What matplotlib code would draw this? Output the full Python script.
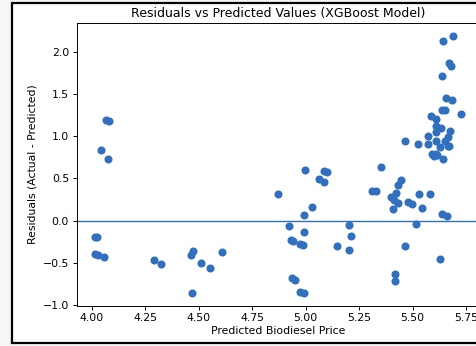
import numpy as np
import matplotlib
matplotlib.use("Agg")
import matplotlib.pyplot as plt
from matplotlib.patches import Rectangle

# predicted price / residual pairs
predicted = [
    4.068, 4.080, 4.043, 4.074, 4.015, 4.025, 4.015, 4.028, 4.057, 4.292,
    4.323, 4.462, 4.473, 4.471, 4.512, 4.553, 4.609, 4.870, 4.921, 4.932,
    4.941, 4.974, 4.986, 4.991, 4.938, 4.952, 4.975, 4.991, 4.994, 4.998,
    5.028, 5.062, 5.085, 5.085, 5.102, 5.147, 5.201, 5.211, 5.201, 5.311,
    5.330, 5.351, 5.401, 5.412, 5.421, 5.410, 5.430, 5.432, 5.444, 5.418,
    5.419, 5.464, 5.466, 5.478, 5.495, 5.517, 5.526, 5.531, 5.543, 5.573,
    5.573, 5.580, 5.584, 5.590, 5.601, 5.608, 5.611, 5.611, 5.608, 5.611,
    5.616, 5.627, 5.632, 5.628, 5.639, 5.642, 5.639, 5.639, 5.644, 5.651,
    5.653, 5.656, 5.662, 5.664, 5.667, 5.670, 5.670, 5.675, 5.681, 5.686,
    5.690, 5.726,
]
residuals = [
    1.194, 1.190, 0.845, 0.734, -0.194, -0.202, -0.397, -0.405, -0.440, -0.472,
    -0.512, -0.409, -0.361, -0.857, -0.500, -0.571, -0.377, 0.313, -0.071, -0.230,
    -0.242, -0.278, -0.286, -0.131, -0.690, -0.710, -0.853, -0.861, 0.060, 0.603,
    0.155, 0.488, 0.460, 0.591, 0.575, -0.302, -0.056, -0.187, -0.353, 0.349,
    0.349, 0.639, 0.282, 0.242, 0.325, 0.139, 0.210, 0.421, 0.480, -0.639,
    -0.722, 0.952, -0.302, 0.218, 0.202, -0.040, 0.913, 0.310, 0.151, 1.004,
    0.913, 0.310, 1.238, 0.790, 0.770, 1.206, 1.127, 1.056, 0.790, 0.948,
    0.782, 0.869, 1.099, -0.456, 0.079, 2.131, 1.718, 1.313, 0.730, 1.313,
    0.944, 1.460, 0.052, 0.889, 0.988, 0.881, 1.869, 1.060, 1.841, 1.437,
    2.194, 1.270,
]

blue = '#3070bf'

fig = plt.figure(figsize=(4.77, 3.46), dpi=100, facecolor='#f6f6f6')
# white panel with dark frame (screenshot border, cut off on the right)
fig.patches.append(Rectangle((12.5 / 477, 3 / 346), 1.2, 340 / 346,
                             transform=fig.transFigure, facecolor='white',
                             edgecolor='black', linewidth=1.6, zorder=-5))

ax = fig.add_axes([76.7 / 477, 40.3 / 346, 402.3 / 477, 282.4 / 346])
ax.set_zorder(2)
ax.scatter(predicted, residuals, s=23, color=blue, zorder=3)
ax.axhline(0, color=blue, linewidth=1.0)

ax.set_xlim(3.93, 5.81)
ax.set_ylim(-1.014, 2.347)
ax.set_xticks([4.00, 4.25, 4.50, 4.75, 5.00, 5.25, 5.50, 5.75])
ax.set_yticks([-1.0, -0.5, 0.0, 0.5, 1.0, 1.5, 2.0])
ax.tick_params(labelsize=7.8, length=3, width=0.7, pad=2.5)
for s in ax.spines.values():
    s.set_linewidth(0.7)

ax.set_title('Residuals vs Predicted Values (XGBoost Model)', fontsize=9.0, pad=4.5)
ax.set_xlabel('Predicted Biodiesel Price', fontsize=7.8, labelpad=2)
ax.set_ylabel('Residuals (Actual - Predicted)', fontsize=7.8, labelpad=4)

fig.savefig('out.png', dpi=100, facecolor=fig.get_facecolor())
